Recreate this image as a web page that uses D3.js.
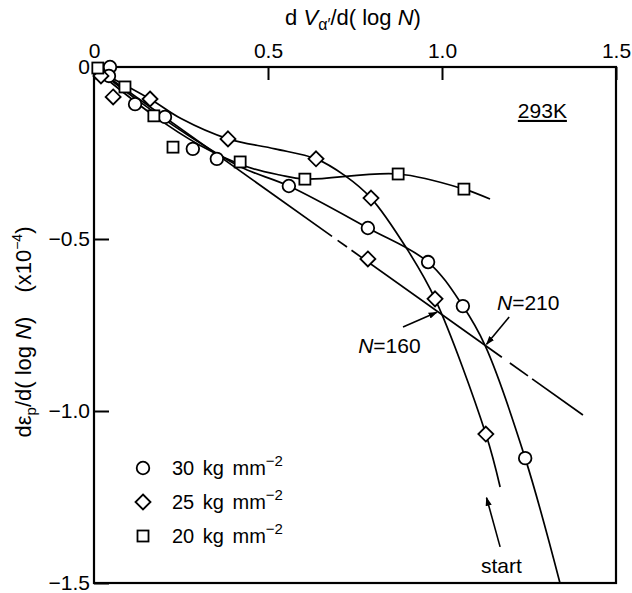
<!DOCTYPE html>
<html>
  <head>
    <meta charset="utf-8">
    <script src="https://d3js.org/d3.v7.min.js"></script>
    <style>
      body { margin: 0; background: #fff; }
      svg text { font-family: "Liberation Sans", Arial, sans-serif; fill: #000; }
      .tick line { stroke: #000; stroke-width: 2; }
      .curve { fill: none; stroke: #000; stroke-width: 1.7; }
      .marker { fill: #fff; stroke: #000; stroke-width: 1.8; }
    </style>
  </head>
  <body>
    <svg id="chart" width="632" height="593"></svg>

    <script>
        // measured points  [dV/dlogN, deps/dlogN]
        let pts30 = [[0.046, 0.0], [0.043, -0.026], [0.118, -0.108], [0.204, -0.145], [0.284, -0.238],
                     [0.353, -0.267], [0.560, -0.346], [0.787, -0.468], [0.960, -0.567], [1.060, -0.695],
                     [1.239, -1.137]]
        let pts25 = [[0.020, -0.026], [0.055, -0.087], [0.161, -0.093], [0.385, -0.209], [0.638, -0.267],
                     [0.796, -0.381], [0.787, -0.558], [0.980, -0.674], [1.126, -1.067]]
        let pts20 = [[0.011, -0.003], [0.089, -0.058], [0.172, -0.142], [0.227, -0.233], [0.420, -0.276],
                     [0.606, -0.326], [0.874, -0.311], [1.063, -0.355]]

        // hand drawn curves through the points
        let curve30 = [[0.0, 0.0], [0.13, -0.10], [0.25, -0.185], [0.42, -0.29], [0.56, -0.346], [0.787, -0.468],
                       [0.96, -0.567], [1.06, -0.695], [1.124, -0.81], [1.239, -1.137], [1.339, -1.5]]
        let curve25 = [[0.0, -0.005], [0.161, -0.093], [0.25, -0.15], [0.385, -0.209], [0.52, -0.238],
                       [0.638, -0.267], [0.72, -0.315], [0.796, -0.381], [0.90, -0.53], [0.98, -0.674],
                       [1.126, -1.067], [1.167, -1.221]]
        let curve20 = [[0.0, -0.005], [0.17, -0.14], [0.30, -0.225], [0.44, -0.29], [0.534, -0.314],
                       [0.606, -0.326], [0.874, -0.311], [1.063, -0.355], [1.138, -0.384]]

        // straight line  y = slope * x, drawn in pieces (dashed gaps)
        let lineSlope = -0.72
        let lineSpans = [[0.005, 0.684], [0.70, 0.727], [0.74, 1.172], [1.195, 1.247], [1.259, 1.405]]

        let xTicks = [0, 0.5, 1.0, 1.5]
        let yTicks = [0, -0.5, -1.0, -1.5]

        let series = ['30', '25', '20']
        let legendLabels = ['30 kg  mm', '25 kg  mm', '20 kg  mm']

        let svg = d3.select('#chart')

        let x = d3.scaleLinear().domain([0, 1.5]).range([94, 616]),
            y = d3.scaleLinear().domain([0, -1.5]).range([67, 583])

        let fmt = d => d === 0 ? '0' : d3.format('.1f')(d).replace('-', '\u2212')

        // axes
        let xAxis = svg.append('g')
            .attr('transform', `translate(0,${y(0)})`)
            .call(d3.axisTop(x).tickValues(xTicks).tickSize(-13).tickPadding(9).tickFormat(fmt))
        let yAxis = svg.append('g')
            .attr('transform', `translate(${x(0)},0)`)
            .call(d3.axisLeft(y).tickValues(yTicks).tickSize(-15).tickPadding(4).tickFormat(fmt))

        xAxis.select('.domain').remove()
        yAxis.select('.domain').remove()
        svg.selectAll('.tick text').attr('font-size', 21).attr('font-family', '"Liberation Sans", Arial, sans-serif')

        // frame
        svg.append('rect')
            .attr('x', x(0)).attr('y', y(0))
            .attr('width', x(1.5) - x(0)).attr('height', y(-1.5) - y(0))
            .attr('fill', 'none').attr('stroke', '#000').attr('stroke-width', 2.2)

        // axis titles
        let xt = svg.append('text').attr('x', 353).attr('y', 25).attr('text-anchor', 'middle').attr('font-size', 22)
        xt.append('tspan').text('d ')
        xt.append('tspan').attr('font-style', 'italic').text('V')
        xt.append('tspan').attr('font-size', 16).attr('dy', 5).text('\u03b1\u2032')
        xt.append('tspan').attr('dy', -5).text('/d( log ')
        xt.append('tspan').attr('font-style', 'italic').text('N')
        xt.append('tspan').text(')')

        let yt = svg.append('text')
            .attr('transform', 'translate(31,332) rotate(-90)')
            .attr('text-anchor', 'middle').attr('font-size', 22)
        yt.append('tspan').text('d\u03b5')
        yt.append('tspan').attr('font-size', 15).attr('dy', 5).text('p')
        yt.append('tspan').attr('dy', -5).text('/d( log ')
        yt.append('tspan').attr('font-style', 'italic').text('N')
        yt.append('tspan').text(')')
        yt.append('tspan').attr('dx', 24).text('(x10')
        yt.append('tspan').attr('font-size', 14).attr('dy', -9).text('\u22124')
        yt.append('tspan').attr('dy', 9).text(')')

        // curves
        let line = d3.line().x(d => x(d[0])).y(d => y(d[1])).curve(d3.curveCatmullRom.alpha(0.5))
        let g = svg.append('g')
        ;[curve30, curve25, curve20].forEach(c => {
            g.append('path').attr('class', 'curve').attr('d', line(c))
        })
        lineSpans.forEach(s => {
            g.append('line').attr('class', 'curve')
                .attr('x1', x(s[0])).attr('y1', y(lineSlope * s[0]))
                .attr('x2', x(s[1])).attr('y2', y(lineSlope * s[1]))
        })

        // markers
        function drawMarker(sel, kind) {
            if (kind === '30') sel.append('circle').attr('class', 'marker').attr('r', 6.3)
            else if (kind === '25') sel.append('path').attr('class', 'marker').attr('d', 'M0,-7.5L7.5,0L0,7.5L-7.5,0Z')
            else sel.append('rect').attr('class', 'marker').attr('x', -5.5).attr('y', -5.5).attr('width', 11).attr('height', 11)
        }
        ;[pts30, pts25, pts20].forEach((pts, i) => {
            pts.forEach(p => {
                let m = g.append('g').attr('transform', `translate(${x(p[0])},${y(p[1])})`)
                drawMarker(m, series[i])
            })
        })

        // annotations
        svg.append('defs').append('marker')
            .attr('id', 'head').attr('viewBox', '0 0 10 10').attr('refX', 9).attr('refY', 5)
            .attr('markerWidth', 9).attr('markerHeight', 9).attr('orient', 'auto-start-reverse')
            .attr('markerUnits', 'userSpaceOnUse')
            .append('path').attr('d', 'M0,1.5L10,5L0,8.5Z').attr('fill', '#000')

        let arrows = [
            [[0.888, -0.756], [0.985, -0.713]],
            [[1.193, -0.727], [1.128, -0.806]],
            [[1.167, -1.395], [1.128, -1.252]]
        ]
        arrows.forEach(a => {
            svg.append('line').attr('stroke', '#000').attr('stroke-width', 1.6)
                .attr('x1', x(a[0][0])).attr('y1', y(a[0][1]))
                .attr('x2', x(a[1][0])).attr('y2', y(a[1][1]))
                .attr('marker-end', 'url(#head)')
        })

        function nLabel(px, py, num) {
            let t = svg.append('text').attr('x', x(px)).attr('y', y(py)).attr('font-size', 21)
            t.append('tspan').attr('font-style', 'italic').text('N')
            t.append('tspan').text('=' + num)
        }
        nLabel(0.759, -0.831, '160')
        nLabel(1.158, -0.706, '210')

        svg.append('text').attr('x', x(1.112)).attr('y', y(-1.471)).attr('font-size', 21).text('start')

        svg.append('text').attr('x', x(1.218)).attr('y', y(-0.148)).attr('font-size', 21)
            .attr('text-decoration', 'underline').text('293K')

        // legend
        legendLabels.forEach((lab, i) => {
            let ly = 468 + i * 34
            let m = svg.append('g').attr('transform', `translate(143,${ly})`)
            drawMarker(m, series[i])
            let t = svg.append('text').attr('x', 172).attr('y', ly + 7).attr('font-size', 20)
                .attr('word-spacing', 3).text(lab)
            t.append('tspan').attr('font-size', 15).attr('dy', -9).text('\u22122')
        })
    </script>
  </body>
</html>
